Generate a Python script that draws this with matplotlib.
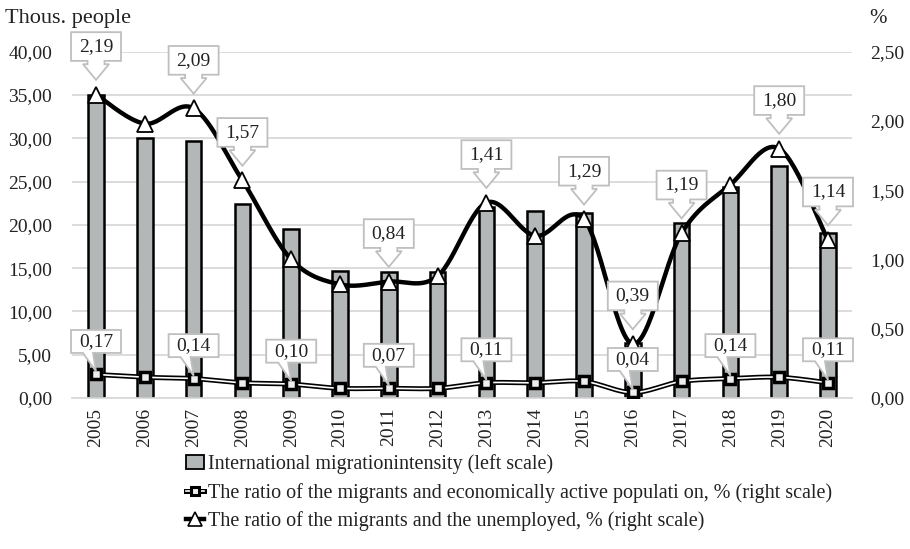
import numpy as np
import matplotlib
matplotlib.use("Agg")
import matplotlib.pyplot as plt
import matplotlib.transforms as mtransforms
from matplotlib.patches import Polygon, Patch
from matplotlib.lines import Line2D

plt.rcParams['font.family'] = ['Liberation Serif', 'DejaVu Serif']

# Data
years = [str(y) for y in range(2005, 2021)]
intensity = [35.0, 30.0, 29.7, 22.4, 19.5, 14.7, 14.6, 14.5, 22.0, 21.6,
             21.4, 6.3, 20.2, 24.4, 26.8, 19.1]
unemployed = [2.19, 1.98, 2.09, 1.57, 1.00, 0.82, 0.84, 0.88, 1.41, 1.17,
              1.29, 0.39, 1.19, 1.54, 1.80, 1.14]
active = [0.17, 0.15, 0.14, 0.11, 0.10, 0.07, 0.07, 0.07, 0.11, 0.11,
          0.12, 0.04, 0.12, 0.14, 0.15, 0.11]
unemp_labelled = ['2005', '2007', '2008', '2011', '2013', '2015', '2016',
                  '2017', '2019', '2020']
active_labelled = ['2005', '2007', '2009', '2011', '2013', '2016', '2018', '2020']

left_ticks = [0, 5, 10, 15, 20, 25, 30, 35, 40]
right_ticks = [0, 0.5, 1.0, 1.5, 2.0, 2.5]

txt_col = '#222222'


def comma(v):
    return f"{v:.2f}".replace('.', ',')


def smooth(xs, ys, n=30):
    # Excel-like smoothed line (Catmull-Rom through Bezier segments)
    xs = np.asarray(xs, float)
    ys = np.asarray(ys, float)
    P = np.column_stack([xs, ys])
    P = np.vstack([P[0], P, P[-1]])
    out = []
    t = np.linspace(0, 1, n)[:, None]
    for i in range(1, len(P) - 2):
        p0, p1, p2, p3 = P[i - 1], P[i], P[i + 1], P[i + 2]
        c1 = p1 + (p2 - p0) / 6
        c2 = p2 - (p3 - p1) / 6
        seg = ((1 - t) ** 3) * p1 + 3 * ((1 - t) ** 2) * t * c1 \
            + 3 * (1 - t) * t ** 2 * c2 + t ** 3 * p2
        out.append(seg if i == 1 else seg[1:])
    out = np.vstack(out)
    return out[:, 0], out[:, 1]


fig = plt.figure(figsize=(9.1, 5.49), dpi=100)
ax = fig.add_axes([0.0787, 0.275, 0.858, 0.631])
ax2 = ax.twinx()

x = np.arange(len(years))

ax.bar(x, intensity, width=0.32, color='#b4b7b7', edgecolor='black',
       linewidth=1.8, zorder=2)
ax.set_ylim(0, 40)
ax.set_xlim(-0.5, len(years) - 0.5)
ax.set_yticks(left_ticks)
ax.set_yticklabels([comma(v) for v in left_ticks])
ax.yaxis.grid(True, color='#d9d9d9', linewidth=1.3, zorder=0)
ax.set_axisbelow(True)
ax.set_xticks(x)
ax.set_xticklabels(years, rotation=90)

ax2.set_ylim(0, 2.5)
ax2.set_yticks(right_ticks)
ax2.set_yticklabels([comma(v) for v in right_ticks])

for a in (ax, ax2):
    for s in a.spines.values():
        s.set_visible(False)
    a.tick_params(length=0, labelsize=14, colors=txt_col)
ax.spines['bottom'].set_visible(True)
ax.spines['bottom'].set_color('#d9d9d9')
ax.spines['bottom'].set_linewidth(1.3)
ax.tick_params(axis='x', labelsize=14, pad=7)
ax.tick_params(axis='y', pad=14)
ax2.tick_params(axis='y', pad=13)

# active population ratio: double line with squares
sx, sy = smooth(x, active)
ax2.plot(sx, sy, color='black', lw=3.6, zorder=3, solid_capstyle='round')
ax2.plot(sx, sy, color='white', lw=1.2, zorder=3.1)
ax2.plot(x, active, ls='none', marker='s', ms=6.5, mfc='#eeeeee', mec='black',
         mew=2.5, zorder=3.2)

# unemployed ratio: thick smooth line with triangles
tx, ty = smooth(x, unemployed)
ax2.plot(tx, ty, color='black', lw=3.2, zorder=3.5, solid_capstyle='round')
ax2.plot(x, unemployed, ls='none', marker='^', ms=12, mfc='white', mec='black',
         mew=1.3, zorder=3.6)

box_ec = '#bfbfbf'


def callout(xi, yi, text, kind):
    trans = fig.dpi_scale_trans + mtransforms.ScaledTranslation(
        xi, yi, ax2.transData)
    if kind == 'arrow':
        b0, b1, hw = 0.337, 0.624, 0.25
        verts = [(-hw, b1), (hw, b1), (hw, b0), (0.085, b0), (0.085, 0.304),
                 (0.13, 0.304), (0, 0.147), (-0.13, 0.304), (-0.085, 0.304),
                 (-0.085, b0), (-hw, b0)]
    else:
        b0, b1, hw = 0.215, 0.445, 0.25
        verts = [(-hw, b1), (hw, b1), (hw, b0), (-0.03, b0), (0.0, 0.03),
                 (-0.13, b0), (-hw, b0)]
    poly = Polygon(verts, closed=True, transform=trans, facecolor='white',
                   edgecolor=box_ec, linewidth=1.3, zorder=5, clip_on=False)
    ax2.add_artist(poly)
    ax2.text(0, (b0 + b1) / 2, text, transform=trans, ha='center',
             va='center', fontsize=14, color=txt_col, zorder=6, clip_on=False)


for i, yr in enumerate(years):
    if yr in unemp_labelled:
        callout(x[i], unemployed[i], comma(unemployed[i]), 'arrow')
    if yr in active_labelled:
        callout(x[i], active[i], comma(active[i]), 'tail')

fig.text(0.006, 0.967, 'Thous. people', fontsize=16, color=txt_col,
         ha='left', va='center')
fig.text(0.955, 0.967, '%', fontsize=15, color=txt_col,
         ha='left', va='center')

h_bar = Patch(facecolor='#b4b7b7', edgecolor='black', linewidth=1.3)
h_act = (Line2D([], [], color='black', lw=3.6),
         Line2D([], [], color='white', lw=1.2, marker='s', ms=6,
                mfc='#eeeeee', mec='black', mew=2.2))
h_un = Line2D([], [], color='black', lw=3.2, marker='^', ms=10, mfc='white',
              mec='black', mew=1.2)
fig.legend([h_bar, h_act, h_un],
           ['International migrationintensity (left scale)',
            'The ratio of the migrants and economically active populati on, % (right scale)',
            'The ratio of the migrants and the unemployed, % (right scale)'],
           loc='upper left', bbox_to_anchor=(0.204, 0.172), frameon=False,
           fontsize=14.5, handlelength=0.9, handletextpad=0.2,
           labelspacing=0.42, borderaxespad=0, borderpad=0,
           labelcolor=txt_col)

fig.savefig('out.png', dpi=100)
